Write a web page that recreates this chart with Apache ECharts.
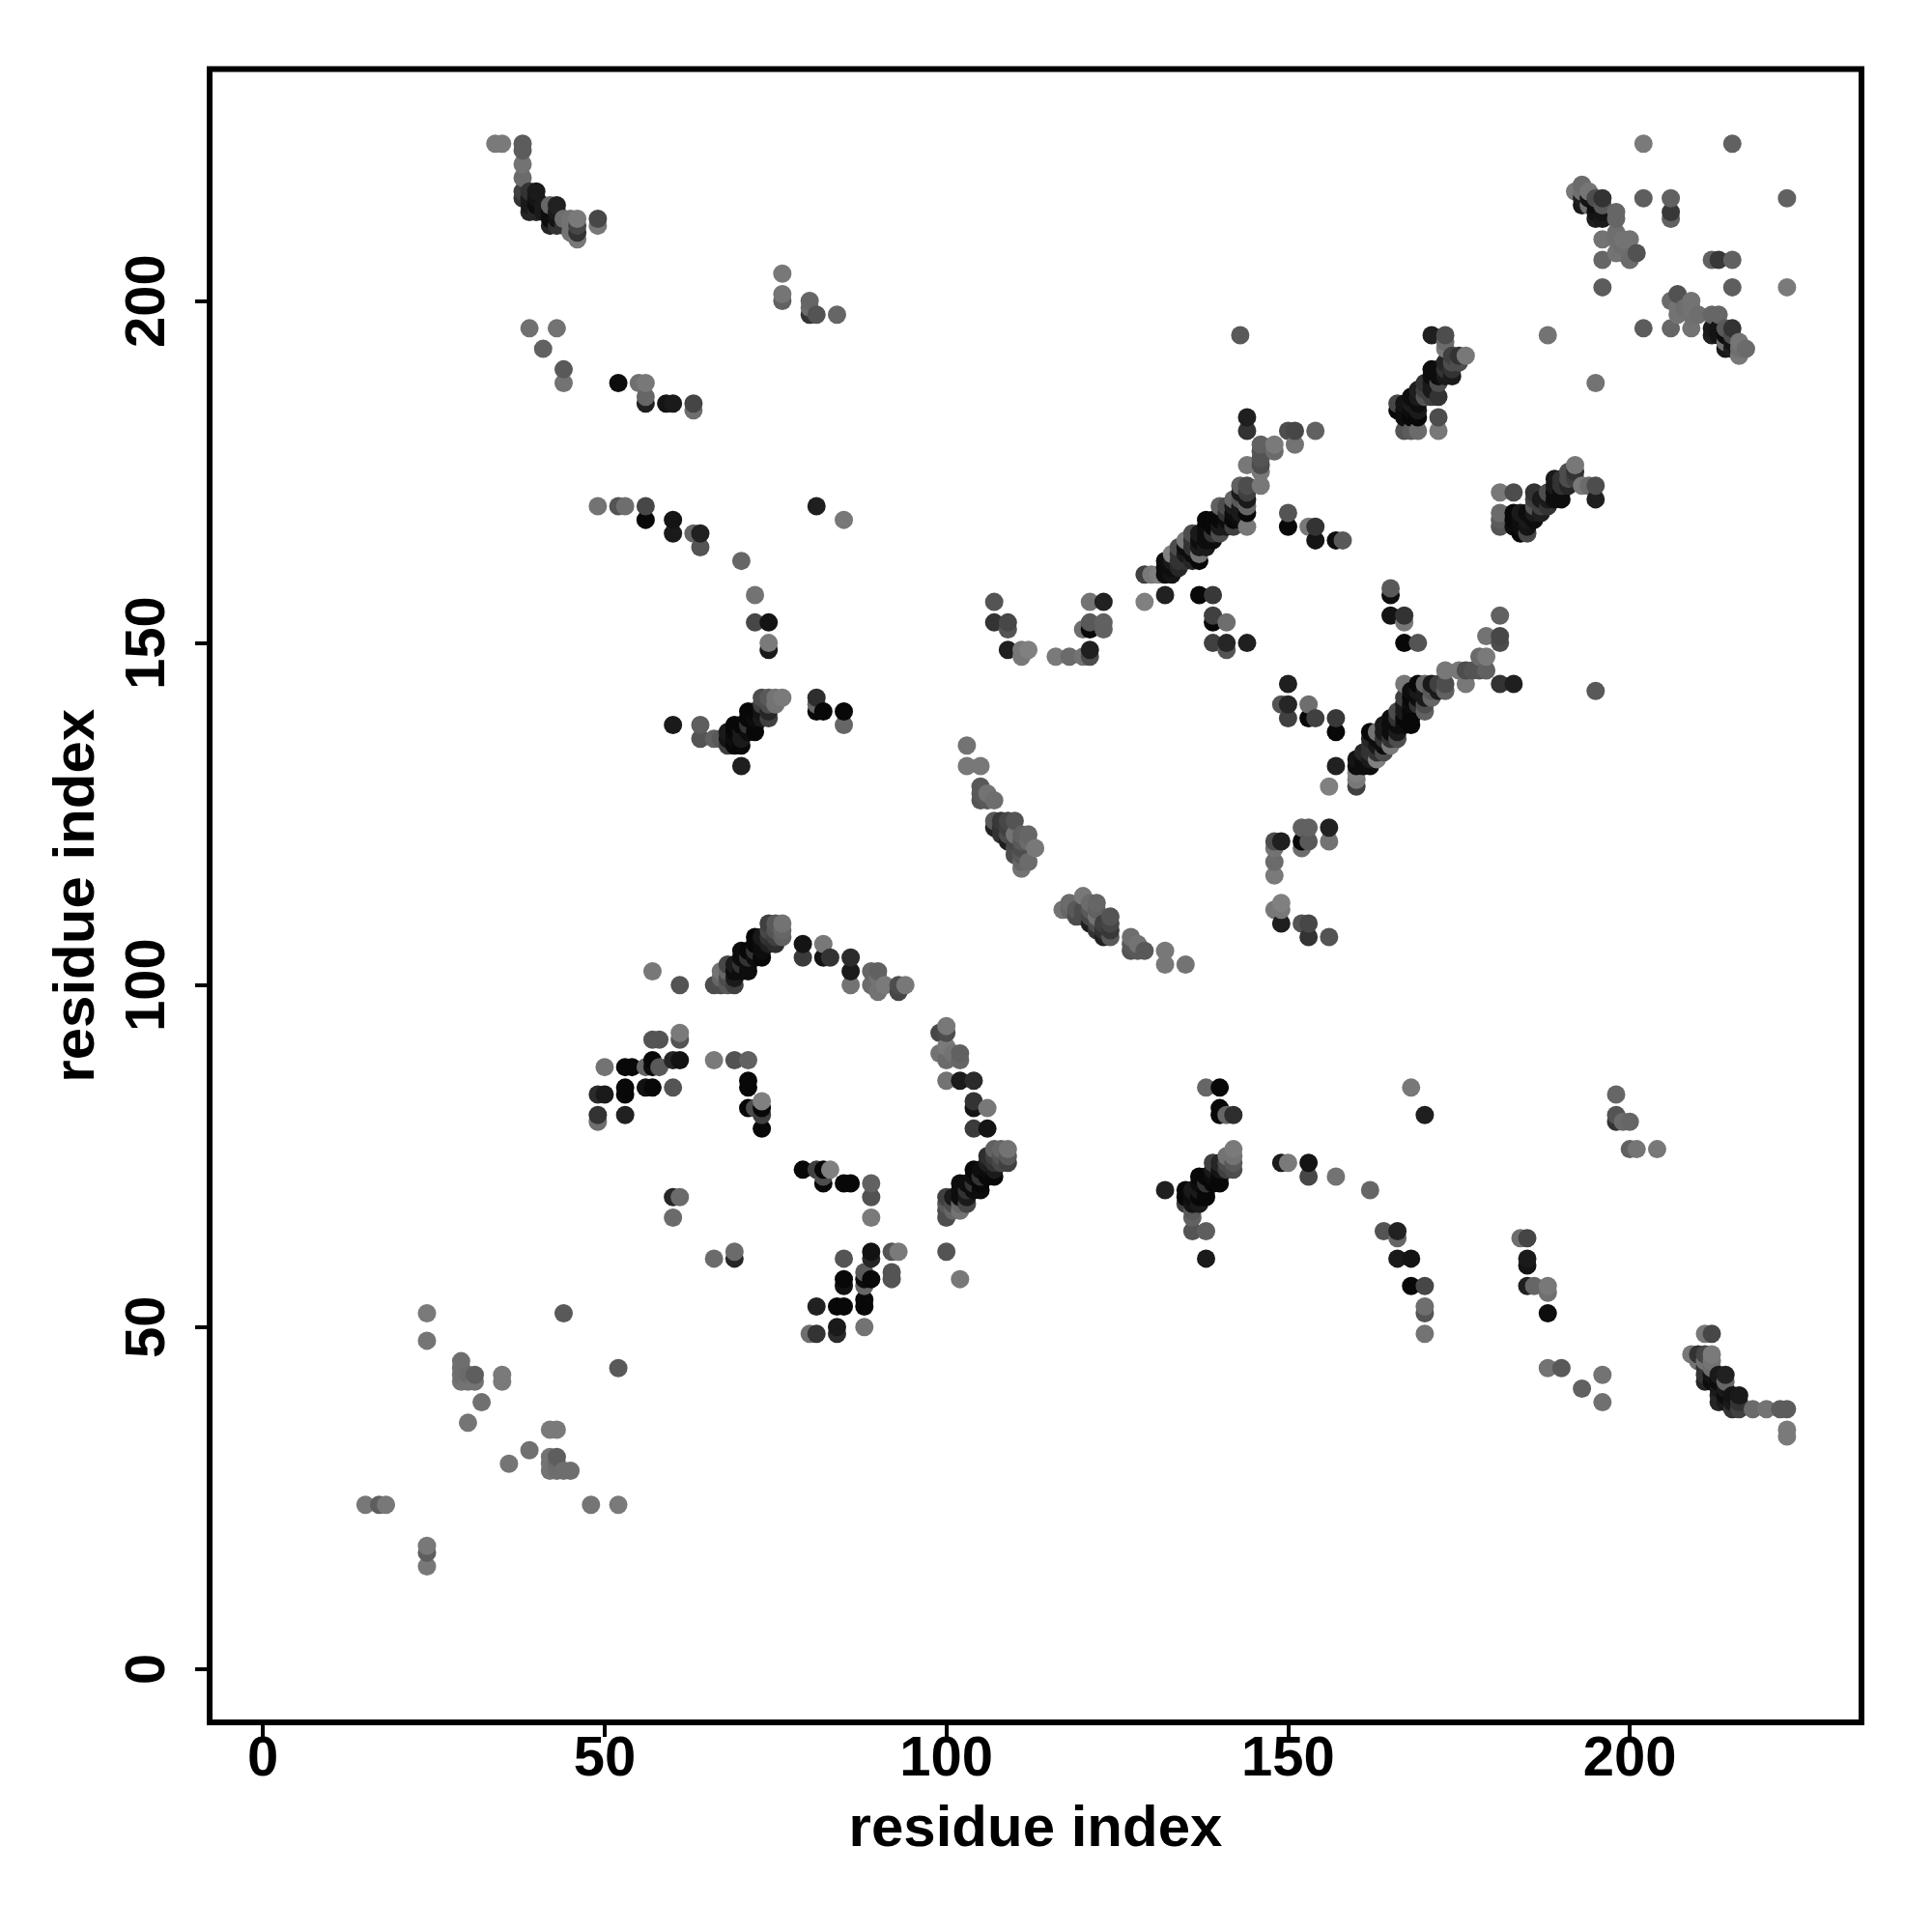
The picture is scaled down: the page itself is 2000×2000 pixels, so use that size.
<!DOCTYPE html>
<html><head><meta charset="utf-8">
<style>html,body{margin:0;padding:0;background:#fff}#c{width:2000px;height:2000px}</style>
<script src="https://cdn.jsdelivr.net/npm/echarts@6/dist/echarts.min.js"></script>
</head><body><div id="c"></div>
<script>
// Each contact: [residue a, residue b, grey level 0..0.5] (a < b); the map is symmetric.
const tickValues = [0, 50, 100, 150, 200];
const axisTitle = 'residue index';
const nTermContacts = [[15,24,.47],[17,24,.37],[18,24,.47],[24,48,.46],[24,52,.48],[29,42,.45],[29,43,.43],[29,44,.43],[29,45,.43],[30,42,.45],[30,43,.42],[31,42,.45],[31,43,.37],[30,36,.46],[32,39,.44],[35,42,.48],[35,43,.48],[44,52,.35]];
const strandA = [[34,223,.48],[35,223,.48],[38,215,.2],[38,216,.25],[38,218,.42],[38,220,.45],[38,222,.36],[38,223,.36],[39,213,.15],[39,214,.1],[39,215,.1],[39,216,.2],[40,213,.15],[40,214,.05],[40,215,.08],[40,216,.1],[41,213,.1],[41,214,.1],[42,211,.15],[42,212,.05],[42,213,.05],[42,214,.4],[43,211,.2],[43,212,.08],[43,213,.1],[43,214,.13],[44,211,.2],[44,212,.43],[45,210,.45],[45,211,.45],[45,212,.45],[46,209,.47],[46,210,.2],[46,211,.28],[46,212,.48],[49,211,.47],[49,212,.28]];
const farA = [[39,196,.44],[43,196,.45],[41,193,.38],[44,190,.35],[44,188,.45],[52,188,.05],[55,188,.44],[56,188,.47],[56,186,.4],[56,185,.12],[59,185,.08],[60,185,.1],[63,185,.27],[63,184,.43],[76,204,.47],[76,201,.46],[76,200,.38],[80,200,.4],[80,199,.42],[80,198,.2],[81,198,.33],[84,198,.4]];
const farC = [[49,170,.45],[52,170,.33],[53,170,.43],[56,170,.28],[56,168,.03],[60,168,.08],[60,166,.1],[63,166,.4],[64,166,.13],[64,164,.33],[70,162,.4],[72,157,.45],[72,153,.28],[74,153,.08],[74,150,.48],[74,149,.1],[81,170,.12],[85,168,.47]];
const farE = [[81,142,.18],[81,141,.4],[81,140,.03],[82,140,.03],[85,140,.03],[85,138,.4],[60,138,.1],[64,138,.37],[64,136,.33],[66,136,.38],[70,132,.12]];
const sheetF = [[68,135,.25],[69,135,.03],[70,135,.03],[67,136,.35],[68,136,.08],[69,136,.05],[70,136,.1],[68,137,.1],[69,137,.03],[70,137,.1],[71,137,.05],[72,137,.03],[69,138,.03],[70,138,.03],[71,138,.2],[72,138,.03],[71,139,.03],[72,139,.05],[73,139,.1],[74,139,.25],[71,140,.03],[72,140,.03],[73,140,.08],[74,140,.15],[73,141,.25],[74,141,.3],[75,141,.45],[73,142,.3],[74,142,.35],[75,142,.45],[76,142,.48]];
const sheetG = [[66,100,.3],[67,100,.3],[67,101,.4],[67,102,.45],[68,100,.35],[68,101,.3],[68,102,.4],[68,103,.28],[69,100,.25],[69,101,.1],[69,102,.05],[69,103,.1],[70,102,.05],[70,103,.2],[70,104,.05],[70,105,.05],[71,102,.05],[71,103,.05],[71,104,.2],[71,105,.03],[72,104,.05],[72,105,.2],[72,106,.03],[72,107,.03],[73,104,.03],[73,105,.05],[73,106,.05],[73,107,.1],[74,106,.12],[74,107,.2],[74,108,.28],[74,109,.25],[75,106,.18],[75,107,.25],[75,108,.33],[75,109,.35],[76,107,.38],[76,108,.4],[76,109,.45]];
const arcH = [[57,102,.47],[61,100,.33],[79,106,.08],[79,104,.23],[82,106,.47],[82,104,.08],[83,104,.2],[86,104,.17],[86,102,.1],[86,100,.45],[89,102,.4],[90,102,.38],[89,100,.42],[90,101,.45],[90,99,.45],[91,100,.48],[93,100,.3],[93,99,.28],[94,100,.47]];
const clusterI = [[49,80,.43],[49,81,.2],[49,84,.17],[50,84,.1],[50,88,.45],[53,81,.13],[53,84,.03],[53,85,.03],[53,88,.03],[54,88,.03],[56,85,.07],[57,85,.03],[56,88,.4],[57,88,.05],[57,89,.03],[58,88,.35],[60,85,.33],[57,92,.33],[58,92,.33],[60,89,.15],[61,89,.07],[61,92,.33],[61,93,.48]];
const clusterJ = [[66,89,.48],[69,89,.32],[71,89,.38],[71,86,.03],[71,85,.03],[71,82,.03],[72,82,.3],[73,83,.5],[73,82,.03],[73,81,.25],[73,79,.03],[60,66,.42],[60,69,.15],[61,69,.42]];
const helixK = [[103,135,.45],[103,132,.47],[105,132,.47],[105,129,.35],[105,128,.35],[105,127,.33],[106,128,.45],[106,127,.35],[107,127,.43],[107,124,.35],[107,123,.13],[108,124,.22],[108,123,.2],[108,122,.2],[109,124,.28],[109,123,.25],[109,122,.3],[109,121,.12],[110,124,.33],[110,122,.45],[110,121,.28],[110,120,.3],[110,119,.3],[111,122,.38],[111,121,.35],[111,120,.3],[111,119,.35],[111,118,.4],[111,117,.45],[112,122,.4],[112,121,.42],[112,118,.42],[113,120,.47]];
const contactM = [[107,153,.2],[107,156,.33],[109,149,.12],[109,152,.33],[109,153,.28],[111,148,.47],[111,149,.47],[112,149,.5],[116,148,.48],[118,148,.42],[120,148,.45],[121,148,.3],[121,149,.12],[120,152,.43],[121,152,.03],[121,153,.35],[121,156,.45],[123,152,.38],[123,153,.38],[123,156,.13]];
const sheetN = [[129,160,.25],[130,160,.47],[131,160,.5],[132,160,.05],[132,161,.05],[132,162,.05],[133,160,.08],[133,161,.05],[133,162,.1],[133,163,.5],[134,161,.15],[134,162,.2],[134,163,.2],[134,164,.3],[135,162,.2],[135,163,.1],[135,164,.05],[135,165,.48],[136,162,.15],[136,163,.05],[136,164,.2],[136,165,.2],[136,166,.3],[137,162,.03],[137,163,.45],[137,164,.1],[137,165,.05],[137,166,.1],[138,164,.1],[138,165,.05],[138,166,.05],[138,167,.05],[138,168,.03],[139,165,.05],[139,166,.2],[139,167,.03],[139,168,.03],[140,166,.3],[140,167,.1],[140,168,.03],[140,170,.38],[141,167,.1],[141,168,.05],[141,169,.2],[141,170,.3],[142,167,.25],[142,168,.03],[142,169,.05],[142,170,.1],[142,171,.4],[143,168,.05],[143,169,.1],[143,170,.1],[143,171,.35],[143,172,.1],[143,173,.38],[144,167,.47],[144,169,.03],[144,170,.4],[144,171,.1],[144,172,.25],[144,173,.3],[144,176,.47],[146,173,.47],[146,175,.47],[146,176,.3],[146,177,.33],[146,178,.33],[146,179,.38],[148,178,.42],[148,179,.48],[144,181,.2],[144,183,.12],[150,181,.3],[151,181,.28],[154,181,.38],[151,179,.45],[143,195,.35]];
const contactO = [[139,150,.25],[139,153,.03],[139,154,.25],[141,149,.33],[141,150,.15],[141,153,.43],[144,150,.12],[132,157,.13],[137,157,.03],[139,157,.22],[129,156,.5],[150,167,.03],[150,169,.33],[153,167,.47],[154,167,.2],[154,165,.08],[157,165,.05],[158,165,.35]];
const sheetQ = [[167,181,.33],[168,181,.36],[169,181,.42],[172,181,.47],[167,183,.05],[168,183,.03],[169,183,.03],[172,183,.3],[166,184,.03],[167,184,.05],[168,184,.05],[169,184,.1],[166,185,.28],[167,185,.08],[168,185,.1],[169,185,.05],[168,186,.05],[169,186,.1],[170,186,.33],[171,186,.25],[172,186,.2],[169,187,.12],[170,187,.25],[171,187,.1],[170,188,.2],[171,188,.1],[172,188,.3],[171,189,.05],[172,189,.05],[173,189,.1],[174,189,.1],[171,190,.05],[172,190,.05],[173,190,.2],[174,190,.2],[173,191,.15],[174,191,.3],[175,191,.3],[174,192,.25],[175,192,.2],[176,192,.47],[173,193,.47],[173,194,.42],[173,195,.3],[171,195,.12]];
const apexW = [[188,195,.45],[196,202,.36],[202,215,.37],[202,223,.48],[206,215,.38],[206,213,.22],[206,212,.38],[215,223,.38],[196,206,.4],[196,209,.45]];
const apexY = [[192,216,.47],[193,217,.42],[193,216,.44],[193,215,.12],[193,214,.1],[194,216,.46],[194,215,.08],[194,214,.44],[195,215,.3],[195,214,.05],[195,213,.08],[195,212,.12],[196,215,.2],[196,214,.35],[196,213,.08],[196,212,.1],[198,213,.4],[198,212,.4],[198,210,.43],[198,209,.44],[198,207,.45],[199,209,.45],[199,208,.43],[199,207,.45],[200,209,.45],[200,206,.42],[201,207,.32]];
const groups = [nTermContacts,strandA,farA,farC,farE,sheetF,sheetG,arcH,clusterI,clusterJ,helixK,contactM,sheetN,contactO,sheetQ,apexW,apexY];
const chart=echarts.init(document.getElementById('c'));
const seen=new Map();
groups.forEach(g=>g.forEach(c=>{
  const a=Math.min(c[0],c[1]),b=Math.max(c[0],c[1]);
  seen.set(a+','+b,[a,b,c[2]]);
}));
const pts=[];
seen.forEach(c=>{pts.push([c[0],c[1],c[2]]);pts.push([c[1],c[0],c[2]]);});
pts.sort((p,q)=>p[0]-q[0]||p[1]-q[1]);
const font='"Liberation Sans"';
const ax=(nameGap,margin,rotate)=>({type:'value',min:-7.8,max:233.9,name:axisTitle,nameLocation:'middle',nameGap:nameGap,
  nameTextStyle:{fontFamily:font,fontWeight:'bold',fontSize:60,color:'#000'},
  axisLine:{show:false,onZero:false},splitLine:{show:false},
  axisTick:{show:true,length:15,inside:false,customValues:tickValues,lineStyle:{color:'#000',width:4}},
  axisLabel:{show:true,customValues:tickValues,margin:margin,rotate:rotate,fontFamily:font,fontWeight:'bold',fontSize:58,color:'#000',formatter:v=>String(v)}});
chart.setOption({animation:false,backgroundColor:'#fff',
 grid:{left:217,top:71.5,width:1710,height:1711.5,show:true,borderColor:'#000',borderWidth:6,backgroundColor:'#fff'},
 xAxis:ax(81,10,0),yAxis:ax(107,34,90),
 series:[{type:'scatter',symbol:'circle',symbolSize:19,data:pts,large:false,progressive:0,
  itemStyle:{opacity:1,color:p=>{const g=Math.round(p.data[2]*255);return 'rgb('+g+','+g+','+g+')';}}}]});
</script></body></html>
